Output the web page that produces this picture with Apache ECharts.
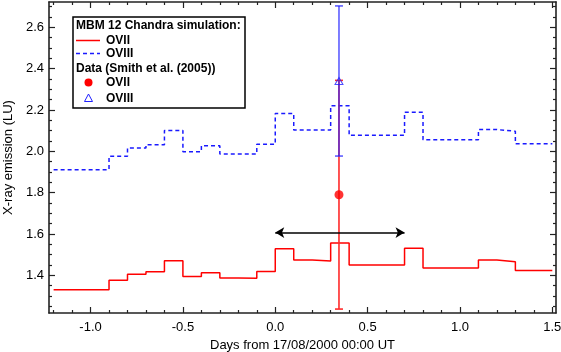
<!DOCTYPE html>
<html><head><meta charset="utf-8">
<script src="https://cdn.jsdelivr.net/npm/echarts@6/dist/echarts.min.js"></script>
<style>html,body{margin:0;padding:0;background:#fff}#c{width:561px;height:352px}</style>
</head><body><div id="c"></div>
<script>
// Simulation bins (left edges, width 0.1 day)
const binStarts = [-1.2,-1.1,-1.0,-0.9,-0.8,-0.7,-0.6,-0.5,-0.4,-0.3,-0.2,-0.1,0.0,0.1,0.2,0.3,0.4,0.5,0.6,0.7,0.8,0.9,1.0,1.1,1.2,1.3,1.4];
const binWidth = 0.1;
const simOVII  = [1.331,1.331,1.331,1.376,1.405,1.418,1.471,1.394,1.413,1.387,1.386,1.419,1.529,1.474,1.470,1.557,1.450,1.450,1.450,1.531,1.436,1.436,1.436,1.474,1.466,1.423,1.423];
const simOVIII = [1.911,1.911,1.911,1.976,2.016,2.032,2.101,1.998,2.027,1.987,1.987,2.034,2.183,2.103,2.103,2.220,2.077,2.077,2.077,2.189,2.056,2.056,2.056,2.105,2.097,2.037,2.037];
// Observations (Smith et al. 2005)
const obsX = [0.345];
const obsOVII = [1.79];
const obsOVIIErr = [0.553];
const obsOVIII = [2.34];
const obsOVIIIErr = [0.363];
// Observation window arrow
const arrowRange = [0.0, 0.7];
const arrowLevel = 1.607;
// Axis ticks
const xMajorTicks = [-1.0,-0.5,0.0,0.5,1.0,1.5];
const xMinorTicks = [-1.2,-1.1,-0.9,-0.8,-0.7,-0.6,-0.4,-0.3,-0.2,-0.1,0.1,0.2,0.3,0.4,0.6,0.7,0.8,0.9,1.1,1.2,1.3,1.4];
const yMajorTicks = [1.4,1.6,1.8,2.0,2.2,2.4,2.6];
const yMinorTicks = [1.25,1.3,1.35,1.45,1.5,1.55,1.65,1.7,1.75,1.85,1.9,1.95,2.05,2.1,2.15,2.25,2.3,2.35,2.45,2.5,2.55,2.65,2.7];
const xRange = [-1.225, 1.52];
const yRange = [1.218, 2.722];

function stepData(vals){
  const out = [];
  binStarts.forEach((s,i)=>{ out.push([s, vals[i]]); out.push([+(s+binWidth).toFixed(3), vals[i]]); });
  return out;
}
const axisColor = '#222';
const font = '"Liberation Sans", Arial, sans-serif';
function xAx(pos, ticks, len, labels, line){
  return {type:'value', position:pos, min:xRange[0], max:xRange[1],
    axisLine:{show:line, onZero:false, lineStyle:{color:axisColor,width:1.6}},
    axisTick:{show:true, inside:true, length:len, customValues:ticks, lineStyle:{color:axisColor,width:1.2}},
    axisLabel:{show:labels, customValues:ticks, formatter:v=>v.toFixed(1), color:'#000', fontSize:13, fontFamily:font, margin:8},
    splitLine:{show:false}};
}
function yAx(pos, ticks, len, labels, line){
  return {type:'value', position:pos, min:yRange[0], max:yRange[1],
    axisLine:{show:line, onZero:false, lineStyle:{color:axisColor,width:1.6}},
    axisTick:{show:true, inside:true, length:len, customValues:ticks, lineStyle:{color:axisColor,width:1.2}},
    axisLabel:{show:labels, customValues:ticks, formatter:v=>v.toFixed(1), color:'#000', fontSize:13, fontFamily:font, margin:5},
    splitLine:{show:false}};
}
const xAxes = [xAx('bottom', xMajorTicks, 6, true, true), xAx('bottom', xMinorTicks, 3, false, false),
               xAx('top', xMajorTicks, 6, false, true), xAx('top', xMinorTicks, 3, false, false)];
Object.assign(xAxes[0], {name:'Days from 17/08/2000 00:00 UT', nameLocation:'middle', nameGap:23,
  nameTextStyle:{fontSize:13, fontFamily:font, color:'#000'}});
const yAxes = [yAx('left', yMajorTicks, 6, true, true), yAx('left', yMinorTicks, 3, false, false),
               yAx('right', yMajorTicks, 6, false, true), yAx('right', yMinorTicks, 3, false, false)];
Object.assign(yAxes[0], {name:'X-ray emission (LU)', nameLocation:'middle', nameGap:34,
  nameTextStyle:{fontSize:13, fontFamily:font, color:'#000'}});

function errBar(color, width){
  return function(params, api){
    const x = api.value(0), lo = api.value(1), hi = api.value(2);
    const a = api.coord([x, lo]), b = api.coord([x, hi]);
    const w = 4;
    const st = {stroke:color, lineWidth:width};
    return {type:'group', children:[
      {type:'line', shape:{x1:a[0],y1:a[1],x2:b[0],y2:b[1]}, style:st},
      {type:'line', shape:{x1:a[0]-w,y1:a[1],x2:a[0]+w,y2:a[1]}, style:st},
      {type:'line', shape:{x1:b[0]-w,y1:b[1],x2:b[0]+w,y2:b[1]}, style:st}
    ]};
  };
}
const oviiErrData = obsX.map((x,i)=>[x, obsOVII[i]-obsOVIIErr[i], obsOVII[i]+obsOVIIErr[i]]);
const oviiiErrData = obsX.map((x,i)=>[x, obsOVIII[i]-obsOVIIIErr[i], obsOVIII[i]+obsOVIIIErr[i]]);

const legFont = 'bold 12px ' + font;
const legend = [
  {type:'rect', shape:{x:73,y:17,width:172,height:91}, style:{fill:'#fff', stroke:'#000', lineWidth:1.5}, z:100},
  {type:'text', x:76, y:26, style:{text:'MBM 12 Chandra simulation:', font:legFont, fill:'#000', verticalAlign:'middle'}, z:101},
  {type:'line', shape:{x1:76,y1:40.5,x2:100,y2:40.5}, style:{stroke:'#ff0000', lineWidth:1.5}, z:101},
  {type:'text', x:106, y:41, style:{text:'OVII', font:legFont, fill:'#000', verticalAlign:'middle'}, z:101},
  {type:'line', shape:{x1:76,y1:53.5,x2:100,y2:53.5}, style:{stroke:'#1a1aff', lineWidth:1.5, lineDash:[4,3]}, z:101},
  {type:'text', x:106, y:54, style:{text:'OVIII', font:legFont, fill:'#000', verticalAlign:'middle'}, z:101},
  {type:'text', x:76, y:69, style:{text:'Data (Smith et al. (2005))', font:legFont, fill:'#000', verticalAlign:'middle'}, z:101},
  {type:'circle', shape:{cx:88.5,cy:82.5,r:4}, style:{fill:'#ff0000'}, z:101},
  {type:'text', x:106, y:83, style:{text:'OVII', font:legFont, fill:'#000', verticalAlign:'middle'}, z:101},
  {type:'polygon', shape:{points:[[88.5,94],[84.5,101.5],[92.5,101.5]]}, style:{fill:'none', stroke:'#2020ff', lineWidth:1}, z:101},
  {type:'text', x:106, y:98.5, style:{text:'OVIII', font:legFont, fill:'#000', verticalAlign:'middle'}, z:101}
];

const chart = echarts.init(document.getElementById('c'), null, {renderer:'canvas'});
chart.setOption({
  animation:false,
  backgroundColor:'#fff',
  grid:{left:49, right:5, top:2, bottom:39, containLabel:false, outerBoundsMode:'none'},
  xAxis:xAxes, yAxis:yAxes,
  graphic:legend,
  series:[
    {type:'line', name:'OVII sim', data:stepData(simOVII), showSymbol:false, symbol:'none',
     lineStyle:{color:'#ff0000', width:1.5}, z:2},
    {type:'line', name:'OVIII sim', data:stepData(simOVIII), showSymbol:false, symbol:'none',
     lineStyle:{color:'#1a1aff', width:1.5, type:[4,3]}, z:2},
    {type:'line', name:'window', data:[], symbol:'none',
     markLine:{silent:true, symbol:['arrow','arrow'], symbolSize:[8,9], label:{show:false},
       lineStyle:{color:'#000', width:1.5, type:'solid'},
       data:[[{coord:[arrowRange[0], arrowLevel]},{coord:[arrowRange[1], arrowLevel]}]]}, z:3},
    {type:'custom', name:'OVII err', data:oviiErrData, renderItem:errBar('#ff2a2a', 1.6), z:4},
    {type:'custom', name:'OVIII err', data:oviiiErrData, renderItem:errBar('rgba(30,30,255,0.72)', 1.6), z:5},
    {type:'scatter', name:'OVII obs', data:obsX.map((x,i)=>[x,obsOVII[i]]), symbol:'circle', symbolSize:9,
     itemStyle:{color:'#ff0000'}, z:6},
    {type:'scatter', name:'OVIII obs', data:obsX.map((x,i)=>[x,obsOVIII[i]]), symbol:'triangle', symbolSize:[8,7],
     itemStyle:{color:'none', borderColor:'#2020ff', borderWidth:1}, z:6}
  ]
});
</script></body></html>
